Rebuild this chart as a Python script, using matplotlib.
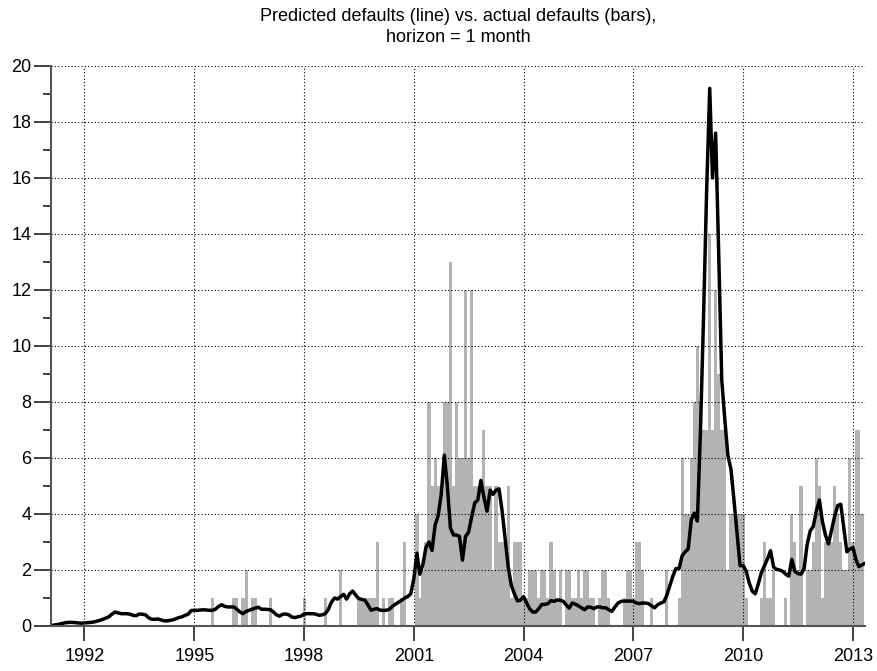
import pandas as pd
import matplotlib
matplotlib.use('Agg')
import matplotlib.pyplot as plt
from matplotlib.ticker import MultipleLocator

# monthly series, first value is Feb 1991, last is May 2013
start_month = '1991-02-01'

# actual number of defaults per month (one row per year)
actual = [
    0, 0, 0, 0, 0, 0, 0, 0, 0, 0, 0,        # 1991
    0, 0, 0, 0, 0, 0, 0, 0, 0, 0, 0, 0,     # 1992
    0, 0, 0, 0, 0, 0, 0, 0, 0, 0, 0, 0,     # 1993
    0, 0, 0, 0, 0, 0, 0, 0, 0, 0, 0, 0,     # 1994
    0, 0, 0, 0, 0, 0, 1, 0, 0, 0, 0, 0,     # 1995
    0, 1, 1, 0, 1, 2, 0, 1, 1, 0, 0, 0,     # 1996
    0, 1, 0, 0, 0, 0, 0, 0, 0, 0, 0, 0,     # 1997
    1, 0, 0, 0, 0, 0, 0, 1, 0, 0, 0, 0,     # 1998
    2, 0, 0, 0, 0, 0, 1, 1, 1, 1, 1, 1,     # 1999
    3, 0, 1, 0, 1, 1, 0, 0, 1, 3, 0, 0,     # 2000
    0, 4, 1, 2, 3, 8, 5, 6, 5, 5, 8, 8,     # 2001
    13, 5, 8, 6, 6, 12, 6, 12, 5, 5, 5, 7,  # 2002
    5, 5, 2, 5, 3, 3, 3, 5, 1, 3, 3, 3,     # 2003
    1, 1, 2, 2, 2, 1, 2, 2, 1, 3, 2, 1,     # 2004
    2, 0, 2, 2, 1, 1, 2, 1, 2, 2, 1, 1,     # 2005
    0, 1, 2, 2, 1, 0, 0, 0, 0, 1, 2, 2,     # 2006
    1, 3, 3, 2, 0, 0, 1, 0, 0, 0, 0, 2,     # 2007
    0, 0, 0, 1, 6, 4, 4, 6, 8, 10, 8, 7,    # 2008
    7, 14, 7, 12, 9, 7, 7, 2, 4, 4, 4, 4,   # 2009
    4, 1, 0, 0, 0, 0, 1, 3, 1, 1, 2, 0,     # 2010
    0, 0, 1, 0, 4, 3, 2, 5, 0, 2, 2, 3,     # 2011
    6, 5, 1, 3, 3, 3, 5, 4, 3, 2, 2, 6,     # 2012
    3, 7, 7, 4, 0,                          # 2013
]

# model prediction, 1 month horizon
predicted = [
    0.02, 0.03, 0.05, 0.07, 0.1, 0.12, 0.13, 0.13, 0.12, 0.11, 0.1,           # 1991
    0.11, 0.12, 0.13, 0.14, 0.17, 0.2, 0.24, 0.28, 0.33, 0.42, 0.5, 0.47,     # 1992
    0.44, 0.44, 0.44, 0.42, 0.38, 0.37, 0.43, 0.42, 0.4, 0.3, 0.24, 0.24,     # 1993
    0.25, 0.22, 0.19, 0.18, 0.2, 0.22, 0.26, 0.3, 0.33, 0.38, 0.42, 0.55,     # 1994
    0.56, 0.56, 0.57, 0.58, 0.57, 0.56, 0.56, 0.6, 0.7, 0.76, 0.7, 0.68,      # 1995
    0.68, 0.68, 0.6, 0.5, 0.44, 0.52, 0.56, 0.6, 0.64, 0.67, 0.6, 0.6,        # 1996
    0.59, 0.58, 0.5, 0.4, 0.35, 0.42, 0.43, 0.4, 0.32, 0.3, 0.33, 0.35,       # 1997
    0.43, 0.44, 0.44, 0.44, 0.42, 0.38, 0.4, 0.44, 0.6, 0.85, 1.0, 0.96,      # 1998
    1.05, 1.13, 0.96, 1.15, 1.25, 1.1, 0.98, 0.95, 0.92, 0.75, 0.56, 0.6,     # 1999
    0.62, 0.56, 0.56, 0.56, 0.6, 0.7, 0.78, 0.85, 0.92, 1.0, 1.05, 1.15,      # 2000
    1.7, 2.6, 1.85, 2.2, 2.8, 3.0, 2.7, 3.6, 3.95, 4.7, 6.1, 5.0,             # 2001
    3.5, 3.25, 3.25, 3.2, 2.35, 3.2, 3.35, 3.9, 4.4, 4.5, 5.2, 4.6,           # 2002
    4.1, 4.85, 4.7, 4.85, 4.9, 4.1, 3.1, 2.1, 1.45, 1.15, 0.9, 0.92,          # 2003
    1.05, 0.82, 0.62, 0.5, 0.5, 0.62, 0.77, 0.77, 0.8, 0.91, 0.88, 0.93,      # 2004
    0.92, 0.88, 0.75, 0.64, 0.82, 0.78, 0.72, 0.65, 0.58, 0.68, 0.67, 0.62,   # 2005
    0.68, 0.68, 0.65, 0.65, 0.58, 0.52, 0.68, 0.82, 0.88, 0.89, 0.89, 0.89,   # 2006
    0.88, 0.82, 0.8, 0.82, 0.82, 0.8, 0.72, 0.65, 0.76, 0.82, 0.86, 1.1,      # 2007
    1.45, 1.8, 2.05, 2.05, 2.5, 2.65, 2.75, 3.8, 4.03, 3.75, 7.0, 11.0,       # 2008
    15.5, 19.2, 16.0, 17.6, 13.4, 8.8, 7.4, 6.1, 5.6, 4.5, 3.3, 2.15,         # 2009
    2.16, 1.95, 1.55, 1.25, 1.15, 1.5, 1.9, 2.15, 2.4, 2.69, 2.1, 2.02,       # 2010
    2.0, 1.95, 1.85, 1.78, 2.38, 1.95, 1.87, 1.85, 2.05, 2.9, 3.4, 3.55,      # 2011
    4.1, 4.5, 3.75, 3.25, 2.93, 3.43, 3.9, 4.3, 4.35, 3.5, 2.65, 2.75,        # 2012
    2.8, 2.35, 2.12, 2.18, 2.24,                                              # 2013
]

year_ticks = [1992, 1995, 1998, 2001, 2004, 2007, 2010, 2013]
title = 'Predicted defaults (line) vs. actual defaults (bars),\nhorizon = 1 month'

months = pd.date_range(start_month, periods=len(actual), freq='MS')

plt.rcParams['font.family'] = ['Liberation Sans', 'DejaVu Sans']
plt.rcParams['font.size'] = 13

fig = plt.figure(figsize=(8.78, 6.71), dpi=100)
ax = fig.add_axes([51 / 878, 1 - 626 / 671, (865 - 51) / 878, (626 - 66) / 671])

ax.bar(months, actual, width=31, color='#b3b3b3', linewidth=0, zorder=1)
ax.plot(months, predicted, color='black', linewidth=2.5, zorder=3)

ax.set_xlim(months[0], months[-1])
ax.set_ylim(0, 20)

ax.set_xticks([pd.Timestamp(f'{y}-01-01') for y in year_ticks])
ax.set_xticklabels([str(y) for y in year_ticks])
ax.yaxis.set_major_locator(MultipleLocator(2))
ax.yaxis.set_minor_locator(MultipleLocator(1))

ax.set_axisbelow(False)
ax.grid(True, which='major', color='black', linestyle=(0, (1, 2)), linewidth=0.8)

for side in ['top', 'right']:
    ax.spines[side].set_visible(False)
for side in ['left', 'bottom']:
    ax.spines[side].set_color('#555555')
    ax.spines[side].set_linewidth(1.5)
    ax.spines[side].set_zorder(4)

ax.tick_params(axis='x', direction='out', length=11, width=1.3, color='#333333', pad=5)
ax.tick_params(axis='y', which='major', direction='out', length=12, width=1.3, color='#333333', pad=2)
ax.tick_params(axis='y', which='minor', direction='out', length=5.5, width=1.3, color='#333333')

ax.set_title(title, fontsize=13, linespacing=1.35, pad=17)

fig.savefig('out.png', dpi=100)
